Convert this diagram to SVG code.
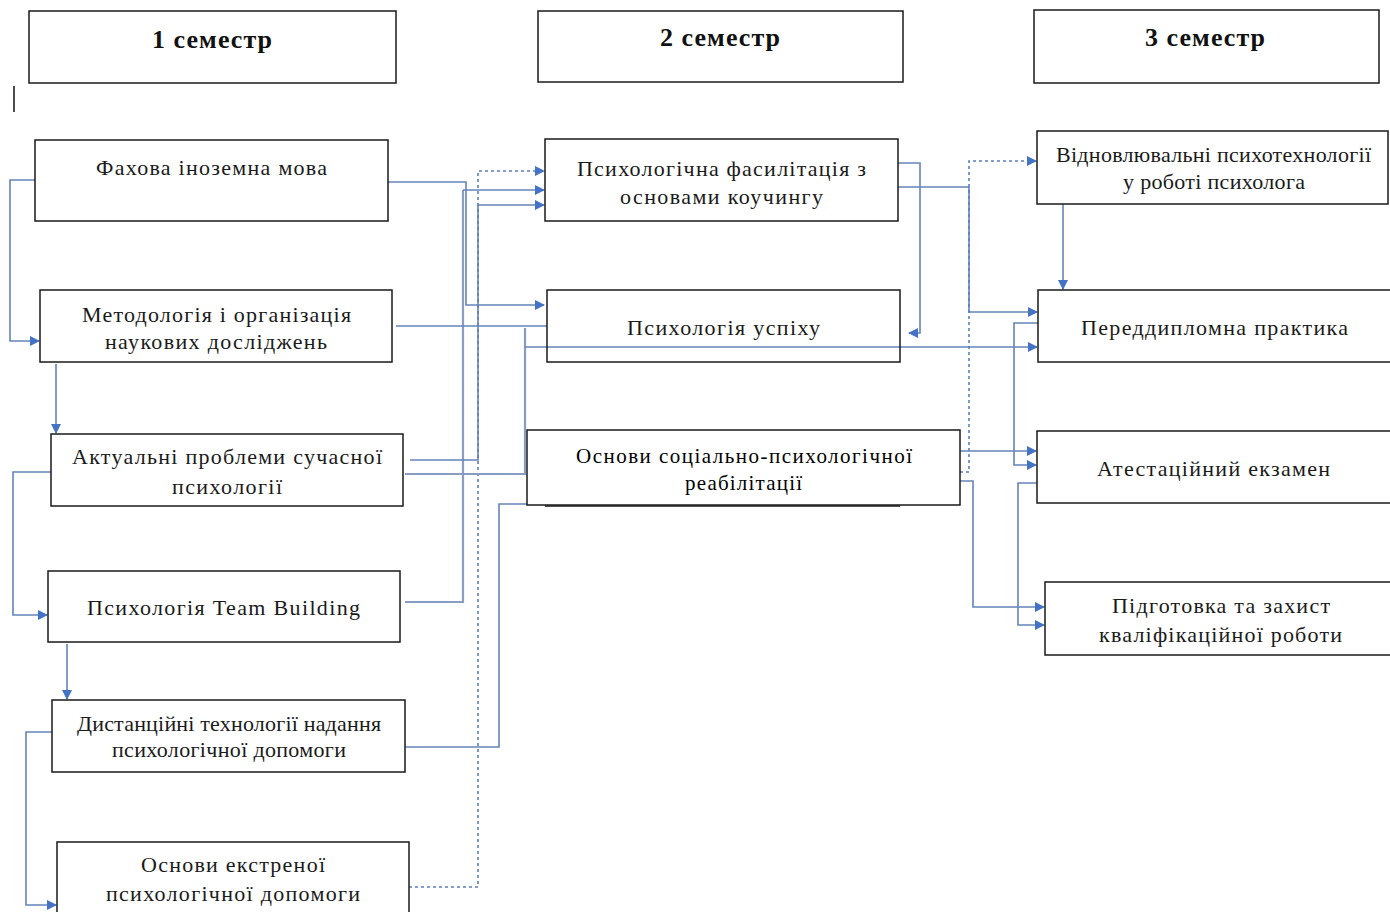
<svg xmlns="http://www.w3.org/2000/svg" width="1390" height="912" viewBox="0 0 1390 912">
<defs>
<marker id="ar" viewBox="0 0 10 10" refX="9" refY="5" markerWidth="10" markerHeight="10" markerUnits="userSpaceOnUse" orient="auto">
<path d="M0,0 L10,5 L0,10 z" fill="#4472C4"/>
</marker>
</defs>
<style>
.box{fill:none;stroke:#1a1a1a;stroke-width:1.5}
.hd{font-family:"Liberation Serif",serif;font-size:26px;font-weight:bold;text-anchor:middle;fill:#111}
.t{font-family:"Liberation Serif",serif;font-size:22px;text-anchor:middle;fill:#1a1a1a}
.t2{font-family:"Liberation Serif",serif;font-size:21px;text-anchor:middle;fill:#000}
.c{fill:none;stroke:#6584BA;stroke-width:1.6}
.cg{fill:none;stroke:#8A9CC2;stroke-width:2.2}
.d{fill:none;stroke:#5C7DBE;stroke-width:1.6;stroke-dasharray:3,3}
</style>
<rect width="1390" height="912" fill="#fff"/>
<g id="headers">
<g id="h1"><rect class="box" x="29" y="11" width="367" height="72"/><text class="hd" x="212" y="48" textLength="120" lengthAdjust="spacing">1 семестр</text></g>
<g id="h2"><rect class="box" x="538" y="11" width="365" height="71"/><text class="hd" x="720" y="46" textLength="120" lengthAdjust="spacing">2 семестр</text></g>
<g id="h3"><rect class="box" x="1034" y="10" width="345" height="73"/><text class="hd" x="1205" y="46" textLength="120" lengthAdjust="spacing">3 семестр</text></g>
<line x1="14" y1="86" x2="14" y2="112" stroke="#111" stroke-width="1.5"/>
</g>
<g id="connectors">
<path class="c" d="M35,180 H10 V341 H39" marker-end="url(#ar)"/>
<path class="c" d="M56,364 V433" marker-end="url(#ar)"/>
<path class="c" d="M51,472 H13 V615 H47" marker-end="url(#ar)"/>
<path class="c" d="M67,644 V699" marker-end="url(#ar)"/>
<path class="c" d="M52,732 H26 V905 H56" marker-end="url(#ar)"/>
<path class="c" d="M388,182 H466 V305 H544" marker-end="url(#ar)"/>
<path class="cg" d="M405,602 H463 V190"/>
<path class="c" d="M463,190 H544" marker-end="url(#ar)"/>
<path class="c" d="M410,460 H478 V205 H544" marker-end="url(#ar)"/>
<path class="d" d="M409,887 H478 V171 H544" marker-end="url(#ar)"/>
<path class="c" d="M396,326 H547"/>
<path class="cg" d="M405,474 H525 V328"/>
<path class="c" d="M525,347 H1037" marker-end="url(#ar)"/>
<path class="c" d="M405,747 H499 V504 H527"/>
<path class="c" d="M898,163 H920 V333 H909" marker-end="url(#ar)"/>
<path class="c" d="M898,187 H969 V312 H1037" marker-end="url(#ar)"/>
<path class="d" d="M960,472 H969 V161 H1036" marker-end="url(#ar)"/>
<path class="c" d="M1038,323 H1014 V465 H1036" marker-end="url(#ar)"/>
<path class="c" d="M960,451 H1036" marker-end="url(#ar)"/>
<path class="c" d="M960,481 H973 V607 H1044" marker-end="url(#ar)"/>
<path class="c" d="M1037,483 H1018 V625 H1044" marker-end="url(#ar)"/>
<path class="c" d="M1063,204 V289" marker-end="url(#ar)"/>
</g>
<g id="n1"><rect class="box" x="35" y="140" width="353" height="81"/><text class="t" x="211.5" y="175" textLength="231" lengthAdjust="spacing">Фахова іноземна мова</text></g>
<g id="n2"><rect class="box" x="40" y="290" width="352" height="72"/><text class="t" x="216.5" y="322" textLength="269" lengthAdjust="spacing">Методологія і організація</text><text class="t" x="216" y="349" textLength="222" lengthAdjust="spacing">наукових досліджень</text></g>
<g id="n3"><rect class="box" x="51" y="434" width="352" height="72"/><text class="t" x="227" y="464" textLength="310" lengthAdjust="spacing">Актуальні проблеми сучасної</text><text class="t" x="227" y="494" textLength="110" lengthAdjust="spacing">психології</text></g>
<g id="n4"><rect class="box" x="48" y="571" width="352" height="71"/><text class="t" x="223.5" y="615" textLength="273" lengthAdjust="spacing">Психологія Team Building</text></g>
<g id="n5"><rect class="box" x="52" y="700" width="353" height="72"/><text class="t" x="229" y="731" textLength="304" lengthAdjust="spacing">Дистанційні технології надання</text><text class="t" x="229" y="757" textLength="234" lengthAdjust="spacing">психологічної допомоги</text></g>
<g id="n6"><rect class="box" x="57" y="842" width="352" height="75"/><text class="t" x="233" y="872" textLength="184" lengthAdjust="spacing">Основи екстреної</text><text class="t" x="233" y="901" textLength="254" lengthAdjust="spacing">психологічної допомоги</text></g>
<g id="n7"><rect class="box" x="545" y="139" width="353" height="82"/><text class="t" x="721.5" y="176" textLength="289" lengthAdjust="spacing">Психологічна фасилітація з</text><text class="t" x="721.5" y="204" textLength="203" lengthAdjust="spacing">основами коучингу</text></g>
<g id="n8"><rect class="box" x="547" y="290" width="353" height="72"/><text class="t" x="723.5" y="335" textLength="193" lengthAdjust="spacing">Психологія успіху</text></g>
<g id="n9"><line x1="545" y1="506" x2="900" y2="506" stroke="#1a1a1a" stroke-width="1.5"/><rect x="527" y="430" width="433" height="75" fill="#fff" stroke="#1a1a1a" stroke-width="1.5"/><text class="t2" x="744" y="463" textLength="336" lengthAdjust="spacing">Основи соціально-психологічної</text><text class="t2" x="743.5" y="490" textLength="117" lengthAdjust="spacing">реабілітації</text></g>
<g id="n10"><rect class="box" x="1037" y="131" width="351" height="73"/><text class="t" x="1213.5" y="162" textLength="315" lengthAdjust="spacing">Відновлювальні психотехнології</text><text class="t" x="1214" y="189" textLength="182" lengthAdjust="spacing">у роботі психолога</text></g>
<g id="n11"><rect class="box" x="1038" y="290" width="354" height="72"/><text class="t" x="1214.5" y="335" textLength="267" lengthAdjust="spacing">Переддипломна практика</text></g>
<g id="n12"><rect class="box" x="1037" y="431" width="355" height="72"/><text class="t" x="1213.5" y="476" textLength="233" lengthAdjust="spacing">Атестаційний екзамен</text></g>
<g id="n13"><rect class="box" x="1045" y="582" width="347" height="73"/><text class="t" x="1221" y="613" textLength="218" lengthAdjust="spacing">Підготовка та захист</text><text class="t" x="1220.5" y="642" textLength="243" lengthAdjust="spacing">кваліфікаційної роботи</text></g>
</svg>
